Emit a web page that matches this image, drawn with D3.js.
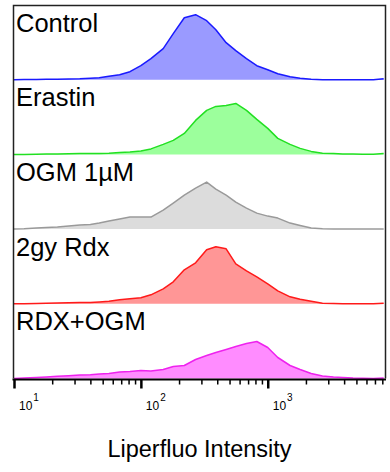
<!DOCTYPE html>
<html lang="en">
<head>
<meta charset="UTF-8">
<title>Liperfluo histograms</title>
<style>
body {
	margin: 0;
	background: #fff;
}
svg {
	display: block;
	font-family: "Liberation Sans", Arial, sans-serif;
}
</style>
</head>
<body>
<script src="https://cdn.jsdelivr.net/npm/d3@7"></script>
<script>

// bin centres (Liperfluo intensity, log spaced)
const intensity = [10, 12, 15, 18, 22, 27, 33, 40, 47, 56, 68, 82, 100, 120, 150, 180, 220, 270, 330, 390,
	470, 560, 680, 820, 1000, 1200, 1500, 1800, 2200, 2700, 3300, 3900, 4700, 5600, 6800, 8200];

const sampleNames = ["Control", "Erastin", "OGM 1\u00b5M", "2gy Rdx", "RDX+OGM"];

// relative counts
const control = [0, 0.2, 0.3, 0.5, 0.5, 0.8, 1, 1.5, 2, 3.5, 5, 8, 14, 21, 31, 46, 62, 65, 59, 50,
	37, 29, 21, 14, 10, 6, 3, 1.5, 0.5, 0, 0, 0, 0, 0, 0, 1];
const erastin = [0, 0, 0.2, 0.3, 0.5, 0.7, 0.8, 0.8, 1, 1.2, 2, 2.5, 3.5, 5.5, 10, 14, 21, 34, 44, 48,
	49, 51, 44, 35, 26, 16, 10, 6, 3, 1.2, 0.8, 0.5, 0.3, 0.2, 0.2, 0.8];
const ogm = [0, 0.3, 1, 1.5, 2, 3, 4, 4.5, 6, 8, 10, 12, 12, 12, 19, 26, 34, 41, 47, 40,
	34, 27, 21, 16, 13, 11, 6, 3.5, 1, 0.3, 0, 0, 0, 0, 0, 0];
const rdx2gy = [0, 0, 0.3, 0.5, 0.8, 1, 1.2, 1.3, 1.8, 2.5, 4, 5, 6, 9, 15, 22, 34, 41, 54, 57,
	55, 40, 33, 27, 20, 13, 7, 4.5, 2.5, 0.5, 0.3, 0, 0, 0, 0, 0.6];
const rdxOgm = [0, 0.5, 1, 1.5, 2.2, 2.8, 3.5, 3.8, 4.5, 5, 6.5, 7, 8, 7.5, 9, 12, 13, 19, 23, 26,
	29, 32, 35, 37, 31, 21, 13, 9, 5, 2.5, 1.5, 1, 0.5, 0.3, 0, 0.5];

const seriesCounts = [control, erastin, ogm, rdx2gy, rdxOgm];

const fills = ["#9a9aff", "#9cff9c", "#dcdcdc", "#ff9696", "#ff8cff"];
const strokes = ["#1a1aff", "#22e022", "#9a9a9a", "#ff1a1a", "#ee22ee"];

const majorTicks = [10, 100, 1000];
const minorTicks = [20, 30, 40, 50, 60, 70, 80, 90, 200, 300, 400, 500, 600, 700, 800, 900,
	2000, 3000, 4000, 5000, 6000, 7000, 8000];
const tickExp = ["1", "2", "3"];

const W = 390, H = 472;
const plotLeft = 14, plotRight = 385, plotTop = 5;
const panelH = 74.7;
const plotBottom = plotTop + panelH * sampleNames.length;

const svg = d3.select("body").append("svg")
	.attr("width", W)
	.attr("height", H);

const x = d3.scaleLog().domain([10, 8400]).range([plotLeft, plotRight]);

sampleNames.forEach((name, i) => {
	const pTop = plotTop + i * panelH;
	const y = d3.scaleLinear().domain([0, panelH]).range([pTop + panelH, pTop]);
	const pts = intensity.map((v, j) => [v, seriesCounts[i][j]]);

	const area = d3.area()
		.x(d => x(d[0]))
		.y0(y(0))
		.y1(d => y(d[1]));

	const line = d3.line()
		.x(d => x(d[0]))
		.y(d => y(d[1]));

	svg.append("path")
		.attr("d", area(pts))
		.attr("fill", fills[i]);

	svg.append("path")
		.attr("d", line(pts))
		.attr("fill", "none")
		.attr("stroke", strokes[i])
		.attr("stroke-width", 1.5)
		.attr("stroke-linejoin", "round");

	svg.append("text")
		.attr("x", 16)
		.attr("y", pTop + 26.5)
		.attr("font-size", "25.5px")
		.attr("fill", "#000")
		.text(name);
});

// frame
svg.append("path")
	.attr("d", `M${plotLeft - 0.5},${plotBottom} V${plotTop + 0.5} H${plotRight + 0.5} V${plotBottom}`)
	.attr("fill", "none")
	.attr("stroke", "#222")
	.attr("stroke-width", 1.5);

// x axis
const axisG = svg.append("g").attr("transform", `translate(0,${plotBottom + 1})`);

axisG.append("g")
	.call(d3.axisBottom(x).tickValues(minorTicks).tickSize(5).tickSizeOuter(0).tickFormat(""))
	.call(g => g.select(".domain").remove())
	.call(g => g.selectAll(".tick line").attr("stroke", "#000").attr("stroke-width", 1.5));

axisG.append("g")
	.call(d3.axisBottom(x).tickValues(majorTicks).tickSize(9).tickSizeOuter(0).tickFormat(""))
	.call(g => g.select(".domain").remove())
	.call(g => g.selectAll(".tick line").attr("stroke", "#000").attr("stroke-width", 2.5));

axisG.append("line")
	.attr("x1", plotLeft - 1.5)
	.attr("x2", plotRight + 1)
	.attr("stroke", "#000")
	.attr("stroke-width", 2.2);

// tick labels 10^n
majorTicks.forEach((v, i) => {
	const t = svg.append("text")
		.attr("x", x(v) + 5)
		.attr("y", 410)
		.attr("font-size", "12px")
		.attr("fill", "#000");
	t.append("tspan").text("10");
	t.append("tspan")
		.attr("dx", 1)
		.attr("dy", -9)
		.attr("font-size", "10px")
		.text(tickExp[i]);
});

svg.append("text")
	.attr("x", (plotLeft + plotRight) / 2)
	.attr("y", 457)
	.attr("text-anchor", "middle")
	.attr("font-size", "23.5px")
	.attr("fill", "#000")
	.text("Liperfluo Intensity");

</script>
</body>
</html>
